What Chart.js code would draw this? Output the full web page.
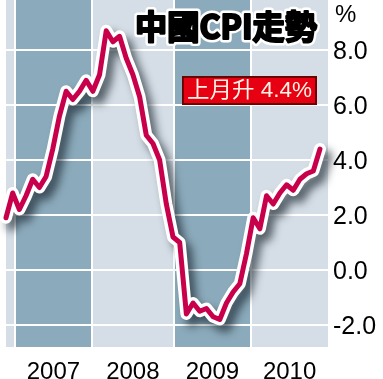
<!DOCTYPE html>
<html>
<head>
<meta charset="utf-8">
<script src="https://cdn.jsdelivr.net/npm/chart.js@4/dist/chart.umd.min.js"></script>
<style>
html,body{margin:0;padding:0;background:#fff;}
canvas{display:block;}
</style>
</head>
<body>
<canvas id="c" width="383" height="379"></canvas>
<script>
// China CPI, year-on-year %, monthly from Nov 2006 to Oct 2010
const firstMonthIndex = -2; // Nov 2006, with Jan 2007 = 0
const cpiValues = [
  1.9, 2.8,
  2.2, 2.7, 3.3, 3.0, 3.4, 4.4, 5.6, 6.5, 6.2, 6.5, 6.9, 6.5,
  7.1, 8.7, 8.3, 8.5, 7.7, 7.1, 6.3, 4.9, 4.6, 4.0, 2.4, 1.2,
  1.0, -1.6, -1.2, -1.5, -1.4, -1.7, -1.8, -1.2, -0.8, -0.5, 0.6, 1.9,
  1.5, 2.7, 2.4, 2.8, 3.1, 2.9, 3.3, 3.5, 3.6, 4.4
];
const yearLabels = ['2007', '2008', '2009', '2010'];
const yearBandEdges = [-2, -0.66, 10.87, 23.1, 34.7, 46.2]; // in month units
const yTickValues = [-2, 0, 2, 4, 6, 8];
const titleText = '中國CPI走勢';
const unitText = '%';
const calloutText = '上月升 4.4%';

const DARK = '#8baabb';
const LIGHT = '#d5dee6';
const LINE = '#c8004b';

Chart.defaults.font.family = "'Liberation Sans', Arial, sans-serif";
Chart.defaults.color = '#000';

const points = cpiValues.map((v, k) => ({x: k + firstMonthIndex, y: v}));
const bandCenters = yearLabels.map((_, k) => (yearBandEdges[k + 1] + yearBandEdges[k + 2]) / 2);

const bandsPlugin = {
  id: 'bands',
  beforeDraw(chart) {
    const {ctx, chartArea, scales} = chart;
    const x = scales.x;
    ctx.save();
    for (let k = 0; k < yearBandEdges.length - 1; k++) {
      const x0 = x.getPixelForValue(yearBandEdges[k]);
      const x1 = x.getPixelForValue(yearBandEdges[k + 1]);
      ctx.fillStyle = (k % 2 === 0) ? LIGHT : DARK;
      ctx.fillRect(x0, chartArea.top, x1 - x0, chartArea.bottom - chartArea.top);
    }
    ctx.fillStyle = '#fff';
    for (let k = 1; k < yearBandEdges.length - 1; k++) {
      const xp = x.getPixelForValue(yearBandEdges[k]);
      ctx.fillRect(Math.round(xp) - 1, chartArea.top, 2, chartArea.bottom - chartArea.top);
    }
    ctx.restore();
  }
};

const shadowPlugin = {
  id: 'lineShadow',
  beforeDatasetDraw(chart, args) {
    if (args.index === 1) {
      const ctx = chart.ctx;
      ctx.save();
      ctx.shadowColor = 'rgba(20,30,40,0.65)';
      ctx.shadowBlur = 9;
      ctx.shadowOffsetX = 6;
      ctx.shadowOffsetY = 7;
    }
  },
  afterDatasetDraw(chart, args) {
    if (args.index === 1) chart.ctx.restore();
  }
};

const labelsPlugin = {
  id: 'labels',
  afterDraw(chart) {
    const ctx = chart.ctx;
    ctx.save();
    // title
    ctx.font = "bold 33px 'Noto Sans CJK TC', 'Noto Sans CJK SC', sans-serif";
    ctx.textBaseline = 'middle';
    ctx.textAlign = 'left';
    const tw = ctx.measureText(titleText).width;
    const sx = 182 / tw;
    ctx.translate(135, 26);
    ctx.scale(sx, 1);
    ctx.lineJoin = 'round';
    ctx.strokeStyle = '#fff';
    ctx.lineWidth = 7 / sx;
    ctx.strokeText(titleText, 0, 0);
    ctx.fillStyle = '#000';
    ctx.fillText(titleText, 0, 0);
    ctx.strokeStyle = '#000';
    ctx.lineWidth = 2.2;
    ctx.strokeText(titleText, 0, 0);
    ctx.restore();

    // unit
    ctx.save();
    ctx.font = "24px 'Liberation Sans', Arial, sans-serif";
    ctx.fillStyle = '#000';
    ctx.textBaseline = 'alphabetic';
    ctx.fillText(unitText, 335, 22);
    ctx.restore();

    // callout box
    ctx.save();
    ctx.fillStyle = '#e60012';
    ctx.fillRect(182, 76, 135, 29);
    ctx.strokeStyle = '#6e0000';
    ctx.lineWidth = 2;
    ctx.strokeRect(183, 77, 133, 27);
    ctx.font = "22px 'Liberation Sans', 'Noto Sans CJK TC', sans-serif";
    ctx.textBaseline = 'middle';
    const cw = ctx.measureText(calloutText).width;
    const cs = 125 / cw;
    ctx.translate(187, 91);
    ctx.scale(cs, 1);
    ctx.fillStyle = '#fff3e6';
    ctx.fillText(calloutText, 0, 0);
    ctx.restore();
  }
};

new Chart(document.getElementById('c'), {
  type: 'line',
  data: {
    datasets: [
      {
        data: points,
        borderColor: LINE,
        borderWidth: 5,
        pointRadius: 0,
        tension: 0,
        borderJoinStyle: 'round',
        borderCapStyle: 'round',
        clip: false
      },
      {
        data: points,
        borderColor: '#ffffff',
        borderWidth: 12,
        pointRadius: 0,
        tension: 0,
        borderJoinStyle: 'round',
        borderCapStyle: 'round',
        clip: false
      }
    ]
  },
  options: {
    responsive: false,
    animation: false,
    events: [],
    layout: {padding: {left: 6, top: 0, right: 0, bottom: 0}},
    plugins: {legend: {display: false}, tooltip: {enabled: false}, title: {display: false}},
    scales: {
      x: {
        type: 'linear',
        min: -2,
        max: 46.2,
        grid: {display: false},
        border: {display: false},
        afterBuildTicks(scale) { scale.ticks = bandCenters.map(v => ({value: v})); },
        afterFit(scale) { scale.height = 32; scale.paddingLeft = 0; scale.paddingRight = 0; },
        ticks: {
          autoSkip: false,
          maxRotation: 0,
          padding: 3,
          font: {size: 24},
          color: '#000',
          callback: (v, i) => yearLabels[i]
        }
      },
      y: {
        position: 'right',
        min: -2.8,
        max: 9.82,
        grid: {color: '#ffffff', lineWidth: 2, drawTicks: false},
        border: {display: false},
        afterBuildTicks(scale) { scale.ticks = yTickValues.map(v => ({value: v})); },
        afterFit(scale) { scale.width = 55; scale.paddingTop = 0; scale.paddingBottom = 0; },
        ticks: {
          padding: 5,
          labelOffset: 2,
          font: {size: 25},
          color: '#000',
          callback: v => Number(v).toFixed(1)
        }
      }
    }
  },
  plugins: [bandsPlugin, shadowPlugin, labelsPlugin]
});
</script>
</body>
</html>
